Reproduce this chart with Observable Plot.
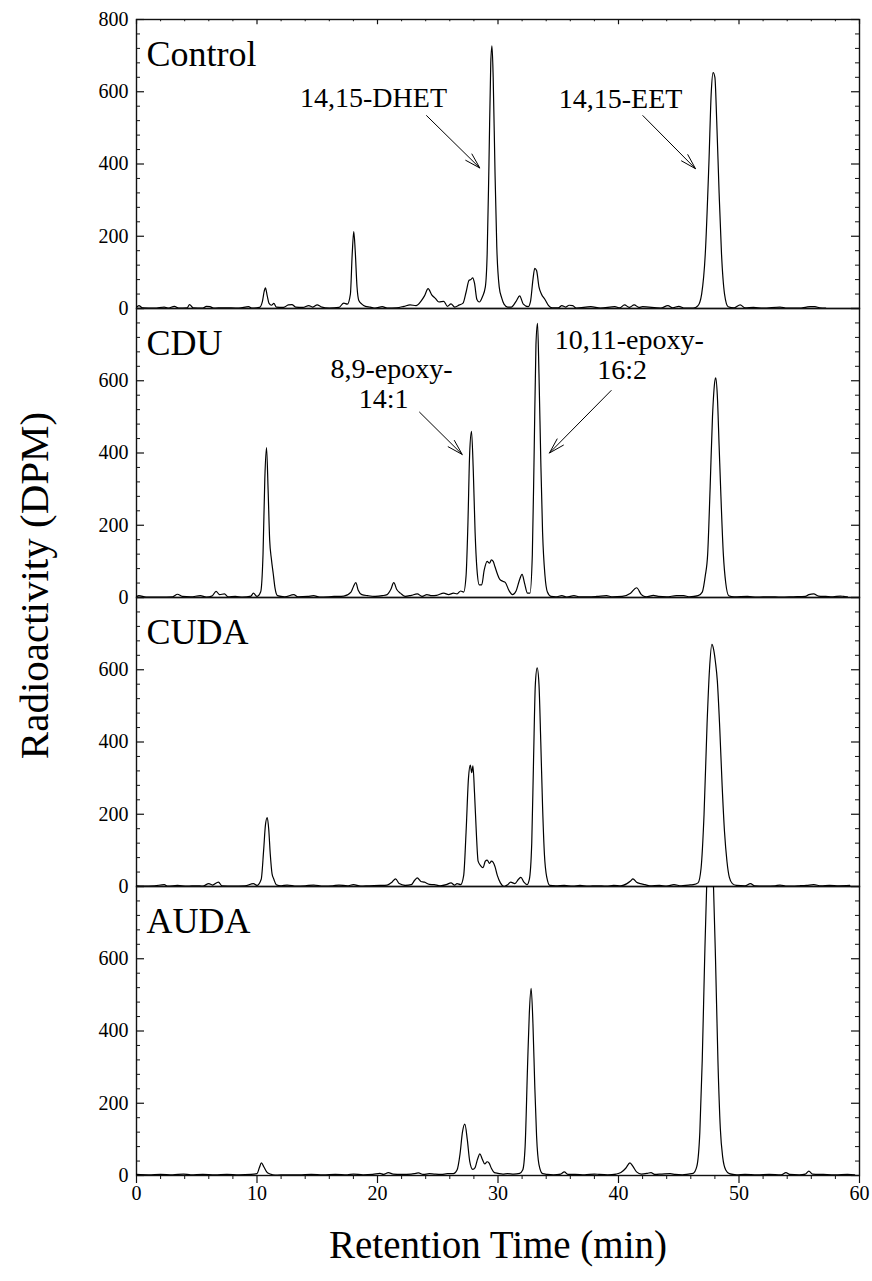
<!DOCTYPE html>
<html>
<head>
<meta charset="utf-8">
<script src="https://cdn.jsdelivr.net/npm/d3@7"></script>
<script src="https://cdn.jsdelivr.net/npm/@observablehq/plot@0.6"></script>
<style>
  html, body { margin: 0; padding: 0; background: #fff; }
  #chart { width: 872px; height: 1281px; }
</style>
</head>
<body>
<div id="chart"></div>
<script>
// ---------------- DATA ----------------
const panels = ["Control", "CDU", "CUDA", "AUDA"];

const xMajorTicks = [0, 10, 20, 30, 40, 50, 60];
const xMinorTicks = [2,4,6,8,12,14,16,18,22,24,26,28,32,34,36,38,42,44,46,48,52,54,56,58];
const yMajorTicks = [0, 200, 400, 600, 800];
const yMinorTicks = [40,80,120,160,240,280,320,360,440,480,520,560,640,680,720,760];
const yTickLabels = [0, 200, 400, 600];
const yTopLabel = [800];

const xTitle = "Retention Time (min)";
const yTitle = "Radioactivity (DPM)";

// retention time (min), radioactivity (DPM)
const control = [[0,3],[0.2,8],[0.5,2],[1.5,1],[2.3,4],[2.6,1],[3.15,6],[3.5,1],[4.2,2],[4.4,11],[4.7,2],[5.5,1],[5.8,6],[6.1,5],[6.4,1],[7.2,2],[8.5,1],[9.3,5],[9.6,1],[10.2,3],[10.45,20],[10.6,48],[10.7,57],[10.85,35],[11.0,14],[11.2,9],[11.4,14],[11.6,4],[12.2,3],[12.6,10],[12.9,11],[13.2,4],[13.8,3],[14.3,8],[14.6,4],[15.0,10],[15.3,5],[16.0,1],[16.8,3],[17.2,15],[17.5,12],[17.75,40],[17.9,150],[18.03,213],[18.15,160],[18.3,60],[18.45,22],[18.7,12],[19.0,6],[19.4,4],[19.8,1],[20.4,5],[20.8,1],[21.6,2],[22.2,6],[22.7,10],[23.2,8],[23.6,20],[23.9,35],[24.2,55],[24.5,38],[24.8,28],[25.1,18],[25.5,20],[25.8,6],[26.1,13],[26.4,4],[26.8,10],[27.1,15],[27.35,45],[27.6,78],[27.75,80],[27.9,85],[28.05,70],[28.25,25],[28.45,18],[28.7,32],[28.95,60],[29.1,150],[29.25,400],[29.4,680],[29.5,727],[29.6,640],[29.75,380],[29.9,170],[30.1,60],[30.3,30],[30.5,12],[30.8,4],[31.1,4],[31.5,20],[31.8,35],[32.1,12],[32.5,5],[32.7,20],[32.9,80],[33.05,111],[33.2,105],[33.4,60],[33.6,40],[33.9,25],[34.2,8],[34.5,2],[35.0,2],[35.3,8],[35.6,4],[35.9,9],[36.2,8],[36.5,1],[37.7,5],[38.5,1],[39.7,5],[40.1,2],[40.5,10],[40.9,3],[41.3,10],[41.7,3],[42.0,5],[43.5,1],[44.1,8],[44.5,2],[45.0,6],[45.5,1],[46.2,1],[46.6,8],[46.9,40],[47.2,150],[47.5,400],[47.7,600],[47.85,653],[48.0,640],[48.15,520],[48.35,320],[48.55,150],[48.8,40],[49.1,5],[49.6,2],[50.1,10],[50.5,2],[51.2,3],[52.0,1],[53.4,4],[54.0,1],[55.0,1],[55.6,4],[55.9,5],[56.3,5],[56.7,2],[57.2,1]];

const cdu = [[0,2],[0.2,5],[0.8,1],[2.0,1],[3.0,2],[3.4,9],[3.8,3],[4.5,2],[5.3,5],[5.8,1],[6.3,5],[6.6,17],[6.9,8],[7.3,10],[7.6,2],[8.2,3],[8.8,1],[9.5,4],[9.7,12],[10.0,3],[10.3,15],[10.5,120],[10.65,330],[10.79,415],[10.92,300],[11.05,160],[11.2,105],[11.35,65],[11.5,25],[11.7,5],[12.3,2],[13.05,8],[13.4,2],[14.2,3],[14.7,5],[15.2,1],[16.4,3],[17.2,4],[17.8,15],[18.0,30],[18.2,41],[18.4,20],[18.7,8],[19.2,5],[19.8,3],[20.4,5],[20.8,8],[21.1,22],[21.35,41],[21.6,22],[21.9,12],[22.3,3],[22.8,6],[23.3,10],[23.7,3],[24.1,8],[24.5,5],[24.9,6],[25.5,12],[25.9,8],[26.3,12],[26.6,10],[26.9,18],[27.15,15],[27.35,60],[27.5,200],[27.65,400],[27.8,460],[27.95,350],[28.1,180],[28.25,80],[28.45,35],[28.65,35],[28.85,75],[29.1,100],[29.3,95],[29.45,104],[29.6,100],[29.75,85],[29.95,65],[30.15,50],[30.4,45],[30.6,42],[30.9,20],[31.2,8],[31.5,18],[31.75,45],[32.0,64],[32.2,40],[32.45,12],[32.65,12],[32.85,120],[33.0,400],[33.15,700],[33.28,759],[33.4,620],[33.55,380],[33.7,180],[33.9,60],[34.1,15],[34.4,3],[34.8,2],[35.3,5],[35.7,1],[36.3,5],[36.8,2],[37.5,2],[38.2,3],[39.0,5],[39.5,2],[40.3,3],[41.0,12],[41.5,27],[41.9,8],[42.3,2],[42.9,6],[43.3,3],[44.0,2],[44.8,5],[45.4,5],[45.9,2],[46.6,5],[46.95,15],[47.2,60],[47.4,120],[47.6,300],[47.8,500],[48.0,600],[48.07,608],[48.2,560],[48.35,420],[48.5,280],[48.7,120],[48.9,40],[49.15,5],[49.6,2],[50.7,3],[51.5,1],[52.5,2],[53.5,1],[54.5,2],[55.5,3],[55.8,8],[56.2,10],[56.6,4],[57.2,3],[57.8,2],[58.4,4],[58.7,3],[59.0,2]];

const cuda = [[0,2],[0.5,1],[1.5,2],[2.3,5],[2.6,1],[3.4,3],[4.2,1],[5.0,2],[5.5,1],[6.0,8],[6.3,4],[6.8,12],[7.1,2],[8.0,1],[9.0,2],[9.7,8],[10.0,3],[10.35,20],[10.55,100],[10.7,170],[10.85,191],[10.97,160],[11.1,90],[11.25,35],[11.4,20],[11.6,5],[12.0,2],[12.5,4],[13.3,1],[14.0,2],[14.7,4],[15.5,1],[16.3,2],[16.8,4],[17.5,2],[18.0,5],[18.6,1],[19.3,2],[20.2,3],[20.8,4],[21.2,12],[21.5,21],[21.8,8],[22.3,3],[22.8,5],[23.1,18],[23.3,24],[23.6,14],[23.9,12],[24.3,6],[24.7,5],[25.2,2],[25.7,5],[26.1,10],[26.4,4],[26.6,8],[26.9,5],[27.15,30],[27.35,150],[27.55,300],[27.7,336],[27.82,315],[27.92,334],[28.05,260],[28.2,150],[28.35,70],[28.55,58],[28.75,52],[28.95,70],[29.1,73],[29.3,64],[29.45,70],[29.6,67],[29.75,55],[29.95,30],[30.2,10],[30.5,0],[30.8,5],[31.05,12],[31.4,8],[31.7,20],[31.9,25],[32.15,12],[32.4,5],[32.6,20],[32.8,120],[32.95,350],[33.1,560],[33.25,605],[33.4,560],[33.55,400],[33.7,220],[33.85,90],[34.05,25],[34.3,3],[34.8,2],[35.5,3],[36.2,1],[36.8,3],[37.5,1],[38.2,2],[39.0,1],[39.6,3],[40.2,2],[40.7,8],[41.0,15],[41.2,21],[41.5,12],[41.8,8],[42.2,5],[42.6,2],[43.4,3],[44.0,1],[44.6,5],[45.2,2],[45.8,4],[46.2,5],[46.6,10],[46.85,50],[47.1,200],[47.35,450],[47.55,600],[47.75,670],[47.9,655],[48.05,620],[48.2,570],[48.4,440],[48.6,280],[48.8,150],[49.0,70],[49.2,25],[49.45,8],[49.8,3],[50.5,2],[50.95,8],[51.3,2],[52.2,1],[53.0,2],[53.4,4],[54.0,1],[55.0,2],[55.6,3],[56.2,5],[56.8,2],[57.5,3],[58.3,2],[59.2,3]];

const auda = [[0,3],[1.0,2],[2.0,3],[3.0,2],[3.9,4],[4.5,2],[5.5,3],[6.5,2],[7.5,3],[8.5,2],[9.5,3],[10.0,5],[10.2,22],[10.37,35],[10.55,25],[10.8,10],[11.1,4],[11.5,1],[12.5,2],[13.5,2],[14.5,3],[15.5,2],[16.5,3],[17.5,2],[18.0,4],[18.8,2],[19.6,3],[20.2,6],[20.5,3],[20.9,8],[21.3,4],[22.0,3],[22.8,4],[23.2,6],[23.4,7],[23.8,3],[24.3,5],[24.7,4],[25.3,3],[25.8,5],[26.3,5],[26.6,15],[26.85,60],[27.05,120],[27.25,142],[27.45,100],[27.65,40],[27.9,17],[28.1,22],[28.3,45],[28.5,60],[28.7,45],[28.9,32],[29.1,38],[29.25,35],[29.45,20],[29.7,8],[30.0,6],[30.4,4],[30.8,5],[31.3,4],[31.8,6],[32.05,15],[32.25,80],[32.45,300],[32.6,450],[32.75,518],[32.9,420],[33.05,250],[33.2,110],[33.4,30],[33.7,5],[34.1,3],[34.6,2],[35.2,4],[35.5,10],[35.8,3],[36.4,3],[37.2,2],[38.0,4],[38.4,3],[39.1,2],[39.8,4],[40.2,8],[40.6,20],[40.95,35],[41.2,25],[41.5,10],[41.9,4],[42.4,6],[42.7,8],[43.0,3],[43.6,4],[44.3,5],[44.7,3],[45.3,2],[45.8,4],[46.2,6],[46.5,25],[46.75,120],[46.95,320],[47.15,600],[47.35,840],[47.6,1000],[47.85,840],[48.05,600],[48.25,320],[48.45,130],[48.65,50],[48.9,15],[49.2,5],[49.8,2],[50.5,3],[51.5,2],[52.5,3],[53.5,2],[53.9,8],[54.2,3],[55.0,2],[55.5,4],[55.8,12],[56.1,4],[57.0,3],[58.0,2],[59.0,3],[59.6,2]];

// annotation labels (panel, time, DPM, text)
const labels = [
  {panel: "Control", t: 19.67, v: 583, text: "14,15-DHET"},
  {panel: "Control", t: 40.17, v: 579, text: "14,15-EET"},
  {panel: "CDU", t: 21.16, v: 633, text: "8,9-epoxy-"},
  {panel: "CDU", t: 20.5, v: 550, text: "14:1"},
  {panel: "CDU", t: 40.9, v: 712, text: "10,11-epoxy-"},
  {panel: "CDU", t: 40.3, v: 629, text: "16:2"}
];
// annotation arrows (panel, from time/DPM to time/DPM)
const arrows = [
  {panel: "Control", t1: 24.07, v1: 534, t2: 28.49, v2: 389},
  {panel: "Control", t1: 42.02, v1: 534, t2: 46.39, v2: 387},
  {panel: "CDU", t1: 23.49, v1: 513, t2: 27.03, v2: 396},
  {panel: "CDU", t1: 39.39, v1: 573, t2: 34.27, v2: 400}
];

// ---------------- BUILD ----------------
const series = {Control: control, CDU: cdu, CUDA: cuda, AUDA: auda};
const rows = [];
for (const p of panels) for (const [t, v] of series[p]) rows.push({panel: p, t, v});

const width = 872, height = 1281;
const mTop = 17, mRight = 13, mBottom = 105, mLeft = 136;
const plotW = width - mLeft - mRight;
const panelH = (height - mTop - mBottom) / panels.length;
const ink = "#111";
const font = "'Liberation Serif', 'Times New Roman', serif";

const chart = Plot.plot({
  width, height,
  marginTop: mTop, marginRight: mRight, marginBottom: mBottom, marginLeft: mLeft,
  style: {fontFamily: font, background: "white", color: "black"},
  x: {domain: [0, 60], axis: null},
  y: {domain: [0, 800], axis: null},
  fy: {domain: panels, padding: 0, axis: null},
  marks: [
    Plot.frame({stroke: ink, strokeWidth: 1.4}),
    // y ticks (inward, both sides)
    Plot.tickY(yMajorTicks, {y: d => d, insetRight: plotW - 8, stroke: ink, strokeWidth: 1.2}),
    Plot.tickY(yMinorTicks, {y: d => d, insetRight: plotW - 4, stroke: ink, strokeWidth: 1}),
    Plot.tickY(yMajorTicks, {y: d => d, insetLeft: plotW - 8, stroke: ink, strokeWidth: 1.2}),
    Plot.tickY(yMinorTicks, {y: d => d, insetLeft: plotW - 4, stroke: ink, strokeWidth: 1}),
    // x ticks: top of first panel (inward), bottom of last panel (outward)
    Plot.tickX(xMajorTicks, {x: d => d, fy: () => "Control", insetBottom: panelH - 6, stroke: ink, strokeWidth: 1.2}),
    Plot.tickX(xMinorTicks, {x: d => d, fy: () => "Control", insetBottom: panelH - 3, stroke: ink, strokeWidth: 1}),
    Plot.tickX(xMajorTicks, {x: d => d, fy: () => "AUDA", insetTop: panelH, insetBottom: -8, stroke: ink, strokeWidth: 1.2}),
    Plot.tickX(xMinorTicks, {x: d => d, fy: () => "AUDA", insetTop: panelH, insetBottom: -4, stroke: ink, strokeWidth: 1}),
    // tick labels
    Plot.text(yTickLabels, {y: d => d, text: d => String(d), frameAnchor: "left", dx: -8, textAnchor: "end", lineAnchor: "middle", fontSize: 20, fill: "black"}),
    Plot.text(yTopLabel, {y: d => d, fy: () => "Control", text: d => String(d), frameAnchor: "left", dx: -8, textAnchor: "end", lineAnchor: "middle", fontSize: 20, fill: "black"}),
    Plot.text(xMajorTicks, {x: d => d, fy: () => "AUDA", text: d => String(d), frameAnchor: "bottom", dy: 10, lineAnchor: "top", fontSize: 20, fill: "black"}),
    // traces
    Plot.line(rows, {x: "t", y: "v", fy: "panel", z: "panel", curve: "monotone-x", stroke: "black", strokeWidth: 1.2, clip: true}),
    // panel names
    Plot.text(panels, {fy: d => d, text: d => d, frameAnchor: "top-left", dx: 10, dy: 21, lineAnchor: "top", textAnchor: "start", fontSize: 36, fill: "black"}),
    // annotations
    Plot.text(labels, {x: "t", y: "v", fy: "panel", text: "text", lineAnchor: "middle", textAnchor: "middle", fontSize: 28, fill: "black"}),
    Plot.arrow(arrows, {x1: "t1", y1: "v1", x2: "t2", y2: "v2", fy: "panel", stroke: "black", strokeWidth: 1, headLength: 24, headAngle: 32}),
    // axis titles
    Plot.text([xTitle], {fy: () => "AUDA", text: d => d, frameAnchor: "bottom", dy: 70, lineAnchor: "middle", fontSize: 39, fill: "black"}),
    Plot.text([yTitle], {fy: () => "CDU", text: d => d, frameAnchor: "bottom-left", dx: -102, dy: -12, rotate: -90, lineAnchor: "middle", textAnchor: "middle", fontSize: 41, fill: "black"})
  ]
});
document.getElementById("chart").appendChild(chart);
</script>
</body>
</html>
